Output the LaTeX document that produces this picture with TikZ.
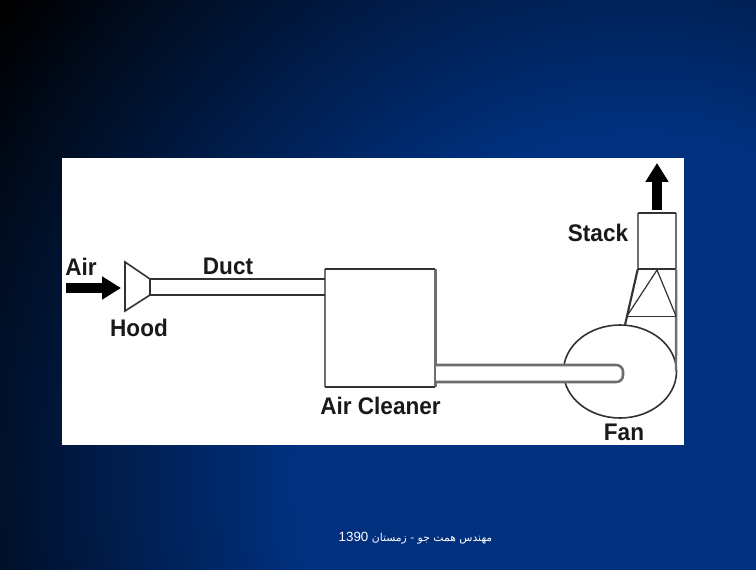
\documentclass[tikz,border=0pt]{standalone}
\usepackage{fontspec}
\setmainfont[FakeStretch=0.94]{Liberation Sans}
\newfontfamily\arabicfont[Script=Arabic]{DejaVu Sans}
\newfontfamily\digitfont{Liberation Sans}
\TeXXeTstate=1
\usetikzlibrary{arrows.meta,shapes.geometric}
\definecolor{slideblue}{RGB}{0,48,126}
\definecolor{ductgray}{RGB}{110,110,110}
\definecolor{linedark}{RGB}{50,50,50}
\pgfdeclareradialshading{slidebg}{\pgfpoint{0bp}{0bp}}{color(0bp)=(slideblue); color(10.9bp)=(slideblue); color(24.7bp)=(black); color(50bp)=(black)}
\tikzset{
  lbl/.style={font=\bfseries\fontsize{18}{20}\selectfont,text=black!90,inner sep=0pt},
  part/.style={draw=linedark,line width=1.2pt,inner sep=0pt},
  edgedark/.style={draw=linedark,line width=1.6pt},
  edgegray/.style={draw=ductgray,line width=1.8pt},
  edgewide/.style={draw=ductgray,line width=2.6pt},
  flow/.style={line width=7.5pt,-{Triangle[length=14.2pt,width=16.5pt]}},
  thin1/.style={draw=linedark,line width=0.9pt}
}
\begin{document}
\begin{tikzpicture}[x=0.75pt,y=-0.75pt]
\useasboundingbox (0,0) rectangle (756,569);
\begin{scope}
\clip (0,0) rectangle (756,569);
\shade[shading=slidebg] (640,480) circle (800);
\end{scope}
\fill[white] (62,158) rectangle (684,445);
% fan and stack
\node[part,ellipse,minimum width=84.75pt,minimum height=69.75pt] (fan) at (620,371.5) {};
\node[inner sep=0pt,minimum width=28.5pt,minimum height=42pt] (stack) at (657,241) {};
\draw[edgegray] (stack.north east)--(stack.south east);
\draw[edgegray] (stack.north west)--(stack.south west);
\draw[edgedark] (stack.north west)--(stack.north east);
\draw[edgedark] (stack.south west)--(stack.south east);
\coordinate (fanT) at (625,325);
\coordinate (fanR) at (676,371);
\coordinate (apex) at (657,270);
\coordinate (triL) at (627,316);
\coordinate (triR) at (676,316);
\draw[edgedark] (stack.south west)--(fanT);
\draw[edgegray] (stack.south east)--(fanR);
\draw[thin1] (triL)--(apex)--(triR);
\draw[draw=linedark,line width=0.5pt] (triL)--(triR);
% hood and duct
\coordinate (hoodA) at (125,262);
\coordinate (hoodB) at (150,279);
\coordinate (hoodC) at (150,295);
\coordinate (hoodD) at (125,311);
\node[inner sep=0pt,minimum width=82.5pt,minimum height=88.5pt] (cleaner) at (380,328) {};
\draw[edgegray] (cleaner.north west)--(cleaner.south west);
\draw[edgewide] (cleaner.north east)--(cleaner.south east);
\draw[edgedark] (cleaner.north west)--(cleaner.north east);
\draw[edgedark] (cleaner.south west)--(cleaner.south east);
\coordinate (ductA) at (325,279);
\coordinate (ductB) at (325,295);
\draw[part,line join=miter] (hoodB)--(hoodA)--(hoodD)--(hoodC)--cycle;
\draw[edgedark] (hoodB)--(ductA);
\draw[edgedark] (hoodC)--(ductB);
% outlet into the fan
\coordinate (outA) at (436,365);
\coordinate (outB) at (436,382);
\draw[edgewide,line width=1.9pt,fill=white,rounded corners=5pt] (outA)--(623,365)--(623,382)--(outB);
% arrows
\coordinate (airA) at (66,288);
\coordinate (airB) at (121,288);
\coordinate (stkA) at (657,210);
\coordinate (stkB) at (657,163);
\draw[flow] (airA)--(airB);
\draw[flow] (stkA)--(stkB);
% labels
\node[lbl] (air) at (81,267) {Air};
\node[lbl] (ductlbl) at (228,266) {Duct};
\node[lbl] (hood) at (139,328) {Hood};
\node[lbl] (stacklbl) at (598,233) {Stack};
\node[lbl] (cleanerlbl) at (380.5,406) {Air Cleaner};
\node[lbl] (fanlbl) at (624,432) {Fan};
\node[text=white,inner sep=0pt,font=\fontsize{8.1}{10}\selectfont] (footer) at (415.5,538) {\arabicfont\beginR مهندس همت جو - زمستان \beginL{\digitfont\fontsize{10}{10}\selectfont 1390}\endL\endR};
\end{tikzpicture}
\end{document}
